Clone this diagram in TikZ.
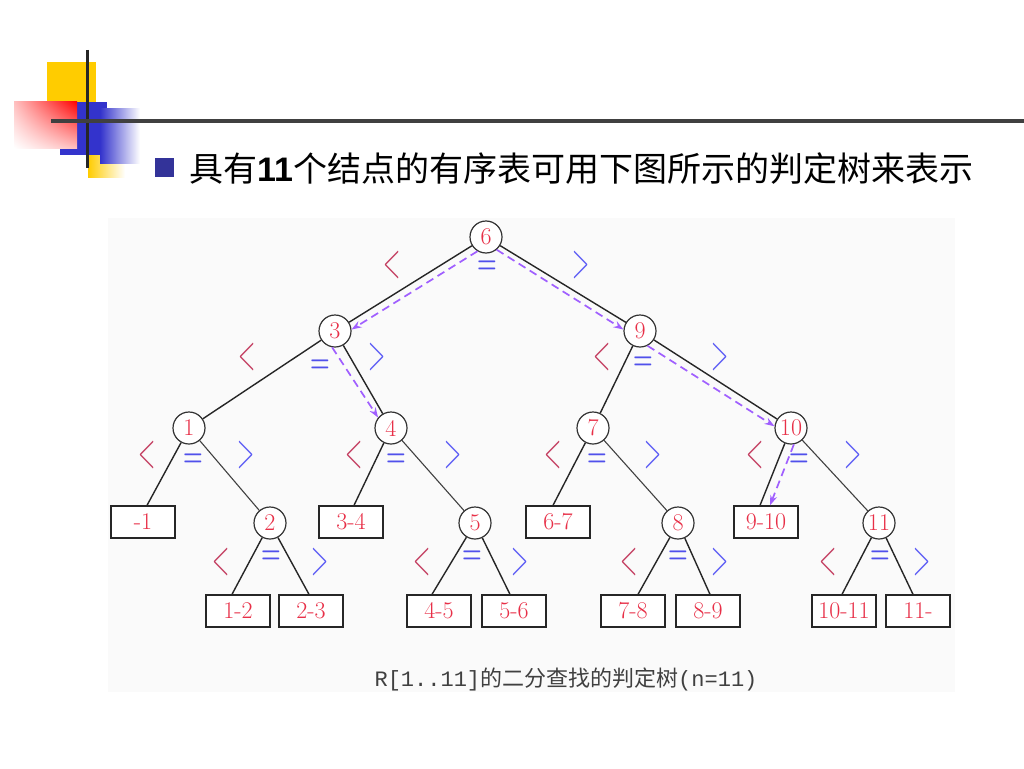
\documentclass[tikz,border=0pt]{standalone}
\usepackage{fontspec}
\usepackage{graphicx}
\newfontfamily\cjkf{Noto Sans CJK SC}
\newfontfamily\monof{Liberation Mono}
\newfontfamily\latf{Liberation Sans}
\usetikzlibrary{arrows.meta,shadings}
\definecolor{numred}{RGB}{232,48,72}
\definecolor{ltred}{RGB}{195,60,95}
\definecolor{eqblue}{RGB}{80,80,235}
\definecolor{gtblue}{RGB}{90,90,245}
\definecolor{dashviolet}{RGB}{160,95,255}
\definecolor{decoyellow}{RGB}{255,204,0}
\definecolor{decoblue}{RGB}{51,51,204}
\definecolor{bulletblue}{RGB}{51,51,153}
\newcommand\symlt{\scalebox{0.45}[1]{<}}
\newcommand\symgt{\scalebox{0.45}[1]{>}}
\newcommand\symeq{\scalebox{0.9}[1.3]{\bfseries =}}
\begin{document}
\begin{tikzpicture}[x=1pt,y=-1pt,
  cnode/.style={circle, draw=black!80, line width=1.2pt, fill=white, minimum size=32pt, inner sep=0pt, text=numred, font=\fontsize{24}{24}\selectfont},
  lbox/.style={rectangle, draw=black!85, line width=1.3pt, fill=white, minimum width=64pt, minimum height=32pt, inner sep=0pt, text=numred, font=\fontsize{24}{24}\selectfont},
  tedge/.style={draw=black!85, line width=1.4pt},
  tthin/.style={draw=black!75, line width=1.1pt},
  darr/.style={draw=dashviolet, line width=1.7pt, dash pattern=on 8pt off 5pt, -{Stealth[length=10pt,width=7pt]}},
  ltsym/.style={inner sep=0pt, text=ltred, font=\fontsize{50}{50}\selectfont},
  gtsym/.style={inner sep=0pt, text=gtblue, font=\fontsize{50}{50}\selectfont},
  eqsym/.style={inner sep=0pt, text=eqblue, font=\fontsize{25}{25}\selectfont}]
\useasboundingbox (0,0) rectangle (1024,768);
\fill[white] (0,0) rectangle (1024,768);
% decoration
\fill[decoyellow] (47,62) rectangle (96,102);
\fill[decoblue] (60,102) rectangle (107,155);
\shade[left color=decoyellow, right color=white] (88,155) rectangle (125,177);
\shade[left color=decoblue, right color=white] (100,108) rectangle (140,163);
\shade[upper right=red, upper left=red!25!white, lower right=red!25!white, lower left=white] (14,101) rectangle (77,148);
\draw[black!85, line width=3pt] (87,50) -- (87,168);
\draw[black!75, line width=4pt] (51,121) -- (1024,121);
% title
\fill[bulletblue] (155,158) rectangle (174,177);
\node[anchor=base west, inner sep=0pt, font=\cjkf\fontsize{34}{34}\selectfont] (title) at (189,181) {具有{\latf\bfseries 11}个结点的有序表可用下图所示的判定树来表示};
% figure background
\fill[black!2] (108,218) rectangle (955,692);
% nodes
\node[cnode] (n6) at (486,237) {6};
\node[cnode] (n3) at (335,331) {3};
\node[cnode] (n9) at (640,331) {9};
\node[cnode] (n1) at (189,428) {1};
\node[cnode] (n4) at (391,428) {4};
\node[cnode] (n7) at (593,428) {7};
\node[cnode] (n10) at (791,428) {10};
\node[cnode] (n2) at (270,523) {2};
\node[cnode] (n5) at (475,523) {5};
\node[cnode] (n8) at (678,523) {8};
\node[cnode] (n11) at (879,523) {11};
\node[lbox] (lm1) at (143,522) {-1};
\node[lbox] (l34) at (351,522) {3-4};
\node[lbox] (l67) at (558,522) {6-7};
\node[lbox] (l910) at (766,522) {9-10};
\node[lbox] (l12) at (238,611) {1-2};
\node[lbox] (l23) at (311,611) {2-3};
\node[lbox] (l45) at (439,611) {4-5};
\node[lbox] (l56) at (514,611) {5-6};
\node[lbox] (l78) at (633,611) {7-8};
\node[lbox] (l89) at (708,611) {8-9};
\node[lbox] (l1011) at (844,611) {10-11};
\node[lbox] (l11) at (918,611) {11-};
% edges
\draw[tedge] (n6) -- (n3);
\draw[tedge] (n6) -- (n9);
\draw[tedge] (n3) -- (n1);
\draw[tedge] (n3) -- (n4);
\draw[tedge] (n9) -- (n7);
\draw[tedge] (n9) -- (n10);
\draw[tedge] (n1) -- ([xshift=4pt]lm1.north);
\draw[tthin] (n1) -- (n2);
\draw[tedge] (n4) -- ([xshift=3pt]l34.north);
\draw[tthin] (n4) -- (n5);
\draw[tedge] (n7) -- ([xshift=-5pt]l67.north);
\draw[tthin] (n7) -- (n8);
\draw[tedge] (n10) -- ([xshift=-6pt]l910.north);
\draw[tthin] (n10) -- (n11);
\draw[tedge] (n2) -- ([xshift=-6pt]l12.north);
\draw[tedge] (n2) -- ([xshift=-2pt]l23.north);
\draw[tedge] (n5) -- ([xshift=-7pt]l45.north);
\draw[tedge] (n5) -- ([xshift=-4pt]l56.north);
\draw[tedge] (n8) -- ([xshift=5pt]l78.north);
\draw[tedge] (n8) -- ([xshift=2pt]l89.north);
\draw[tedge] (n11) -- ([xshift=-2pt]l1011.north);
\draw[tedge] (n11) -- ([xshift=-5pt]l11.north);
% search path
\draw[darr] (n6.-121) -- (n3.5);
\draw[darr] (n6.-50) -- (n9.175);
\draw[darr] (n3.-100) -- (n4.141);
\draw[darr] (n9.-63) -- (n10.174);
\draw[darr] (n10.-80) -- ([xshift=4pt]l910.north);
% comparison labels
\node[ltsym] (s6l) at (392,265) {\symlt};
\node[eqsym] (s6e) at (487,267) {\symeq};
\node[gtsym] (s6g) at (581,265) {\symgt};
\node[ltsym] (s3l) at (247,357) {\symlt};
\node[eqsym] (s3e) at (320,366) {\symeq};
\node[gtsym] (s3g) at (377,357) {\symgt};
\node[ltsym] (s9l) at (602,357) {\symlt};
\node[eqsym] (s9e) at (643,363) {\symeq};
\node[gtsym] (s9g) at (720,357) {\symgt};
\node[ltsym] (s1l) at (147,455) {\symlt};
\node[eqsym] (s1e) at (193,460) {\symeq};
\node[gtsym] (s1g) at (246,455) {\symgt};
\node[ltsym] (s4l) at (354,455) {\symlt};
\node[eqsym] (s4e) at (396,460) {\symeq};
\node[gtsym] (s4g) at (453,455) {\symgt};
\node[ltsym] (s7l) at (553,455) {\symlt};
\node[eqsym] (s7e) at (597,460) {\symeq};
\node[gtsym] (s7g) at (653,455) {\symgt};
\node[ltsym] (s10l) at (755,455) {\symlt};
\node[eqsym] (s10e) at (799,460) {\symeq};
\node[gtsym] (s10g) at (853,455) {\symgt};
\node[ltsym] (s2l) at (221,562) {\symlt};
\node[eqsym] (s2e) at (271,557) {\symeq};
\node[gtsym] (s2g) at (320,562) {\symgt};
\node[ltsym] (s5l) at (422,562) {\symlt};
\node[eqsym] (s5e) at (472,557) {\symeq};
\node[gtsym] (s5g) at (520,562) {\symgt};
\node[ltsym] (s8l) at (629,562) {\symlt};
\node[eqsym] (s8e) at (678,557) {\symeq};
\node[gtsym] (s8g) at (720,562) {\symgt};
\node[ltsym] (s11l) at (828,562) {\symlt};
\node[eqsym] (s11e) at (880,557) {\symeq};
\node[gtsym] (s11g) at (922,562) {\symgt};
% caption
\node[anchor=base, inner sep=0pt, text=black!75, font=\fontsize{22}{22}\selectfont] (cap) at (566,686) {{\monof R[1..11]}{\cjkf 的二分查找的判定树}{\monof (n=11)}};
\end{tikzpicture}
\end{document}
